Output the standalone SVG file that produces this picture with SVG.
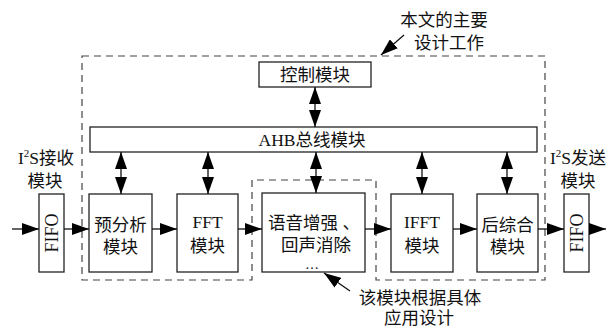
<svg xmlns="http://www.w3.org/2000/svg" width="615" height="327" viewBox="0 0 615 327">
<style>
.box{fill:#fff;stroke:#222;stroke-width:1.3}
.dash{fill:none;stroke:#444;stroke-width:1.2;stroke-dasharray:7,5}
.t{font-family:"Liberation Serif","Noto Sans CJK SC",serif;font-size:17.5px;fill:#111;text-anchor:middle}
.ln{stroke:#111;stroke-width:1.3;fill:none}
</style>
<defs>
<marker id="ah" markerUnits="userSpaceOnUse" markerWidth="18" markerHeight="12" refX="17" refY="6" orient="auto-start-reverse">
<path d="M0,0 L17,6 L0,12 z" fill="#000"/>
</marker>
</defs>
<rect width="615" height="327" fill="#fff"/>
<path class="dash" d="M82,56 L545,56 L545,280 L376,280 L376,180 L252,180 L252,280 L82,280 Z"/>
<g id="control"><rect class="box" x="259" y="62" width="112" height="25"/><text class="t" x="315" y="81">控制模块</text></g>
<g id="ahb"><rect class="box" x="90" y="127" width="447" height="25"/><text class="t" x="312" y="146">AHB总线模块</text></g>
<g id="fifo-in"><rect class="box" x="39" y="194" width="25" height="78"/><text class="t" transform="translate(57.5,233) rotate(-90)" x="0" y="0" style="font-size:18px">FIFO</text></g>
<g id="pre"><rect class="box" x="89" y="194" width="63" height="78"/><text class="t" x="120.5" y="231">预分析</text><text class="t" x="120.5" y="253">模块</text></g>
<g id="fft"><rect class="box" x="177" y="194" width="61" height="78"/><text class="t" x="207.5" y="228">FFT</text><text class="t" x="207.5" y="252">模块</text></g>
<g id="enh"><rect class="box" x="262" y="193" width="103" height="79"/><text class="t" x="314" y="229">语音增强 、</text><text class="t" x="316" y="251">回声消除</text><text class="t" x="312" y="269" style="font-size:14px">…</text></g>
<g id="ifft"><rect class="box" x="391" y="194" width="62" height="78"/><text class="t" x="422" y="228">IFFT</text><text class="t" x="422" y="252">模块</text></g>
<g id="post"><rect class="box" x="477" y="194" width="61" height="78"/><text class="t" x="507.5" y="231">后综合</text><text class="t" x="507.5" y="253">模块</text></g>
<g id="fifo-out"><rect class="box" x="564" y="194" width="25" height="78"/><text class="t" transform="translate(582.5,233) rotate(-90)" x="0" y="0" style="font-size:18px">FIFO</text></g>
<g id="labels">
<text class="t" x="46" y="164">I<tspan dy="-7" style="font-size:11px">2</tspan><tspan dy="7">S接收</tspan></text>
<text class="t" x="45" y="187">模块</text>
<text class="t" x="578" y="164">I<tspan dy="-7" style="font-size:11px">2</tspan><tspan dy="7">S发送</tspan></text>
<text class="t" x="578" y="187">模块</text>
<text class="t" x="444" y="26">本文的主要</text>
<text class="t" x="449" y="49">设计工作</text>
<text class="t" x="420" y="304">该模块根据具体</text>
<text class="t" x="419" y="324">应用设计</text>
</g>
<g id="connectors">
<line class="ln" x1="12" y1="229" x2="39" y2="229" marker-end="url(#ah)"/>
<line class="ln" x1="64" y1="229" x2="89" y2="229" marker-end="url(#ah)"/>
<line class="ln" x1="152" y1="229" x2="177" y2="229" marker-end="url(#ah)"/>
<line class="ln" x1="238" y1="229" x2="262" y2="229" marker-end="url(#ah)"/>
<line class="ln" x1="365" y1="229" x2="391" y2="229" marker-end="url(#ah)"/>
<line class="ln" x1="453" y1="229" x2="477" y2="229" marker-end="url(#ah)"/>
<line class="ln" x1="538" y1="229" x2="564" y2="229" marker-end="url(#ah)"/>
<line class="ln" x1="589" y1="229" x2="606" y2="229" marker-end="url(#ah)"/>
<line class="ln" x1="315" y1="87" x2="315" y2="127" marker-start="url(#ah)" marker-end="url(#ah)"/>
<line class="ln" x1="121" y1="152" x2="121" y2="194" marker-start="url(#ah)" marker-end="url(#ah)"/>
<line class="ln" x1="208" y1="152" x2="208" y2="194" marker-start="url(#ah)" marker-end="url(#ah)"/>
<line class="ln" x1="316" y1="152" x2="316" y2="193" marker-start="url(#ah)" marker-end="url(#ah)"/>
<line class="ln" x1="422" y1="152" x2="422" y2="194" marker-start="url(#ah)" marker-end="url(#ah)"/>
<line class="ln" x1="507" y1="152" x2="507" y2="194" marker-start="url(#ah)" marker-end="url(#ah)"/>
<line class="ln" x1="404" y1="35" x2="381" y2="55" marker-end="url(#ah)"/>
<line class="ln" x1="350" y1="291" x2="324" y2="273" marker-end="url(#ah)"/>
</g>
</svg>
